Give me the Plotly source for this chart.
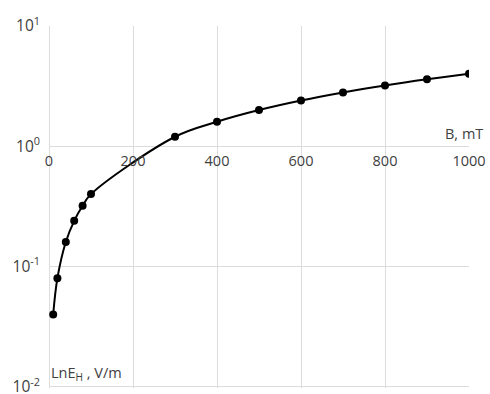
import plotly.graph_objects as go

B_mT = [10, 20, 40, 60, 80, 100, 300, 400, 500, 600, 700, 800, 900, 1000]
E_H = [0.04, 0.08, 0.16, 0.24, 0.32, 0.40, 1.2, 1.6, 2.0, 2.4, 2.8, 3.2, 3.6, 4.0]

x_ticks = [0, 200, 400, 600, 800, 1000]
y_tickvals = [0.01, 0.1, 1, 10]
y_ticktext = ["10<sup>-2</sup>", "10<sup>-1</sup>", "10<sup>0</sup>", "10<sup>1</sup>"]

FONT = "Open Sans"
TXT = "#404040"
GRID = "#dcdcdc"

fig = go.Figure()
fig.add_trace(go.Scatter(
    x=B_mT, y=E_H, mode="lines+markers",
    line=dict(color="black", width=2, shape="spline", smoothing=1.0),
    marker=dict(color="black", size=8),
    showlegend=False,
))

fig.update_layout(
    width=490, height=394,
    margin=dict(l=49, r=21, t=26, b=6, autoexpand=False),
    paper_bgcolor="white", plot_bgcolor="white",
    font=dict(family=FONT, size=14.5, color=TXT),
    xaxis=dict(
        range=[0, 1000], tickvals=x_ticks, ticktext=[str(v) for v in x_ticks],
        showgrid=True, gridcolor=GRID, gridwidth=1,
        zeroline=True, zerolinecolor=GRID, zerolinewidth=1,
        showline=False, ticks="", anchor="free", position=2/3,
        ticklabelstandoff=4, automargin=False,
        tickfont=dict(family=FONT, size=14.5, color=TXT),
    ),
    yaxis=dict(
        type="log", range=[-2.01, 1], tickvals=y_tickvals, ticktext=y_ticktext,
        showgrid=True, gridcolor=GRID, gridwidth=1, zeroline=False,
        showline=False, ticks="", ticklabelstandoff=8,
        ticklabeloverflow="allow", automargin=False,
        tickfont=dict(family=FONT, size=15.5, color=TXT),
    ),
    annotations=[
        dict(text="B, mT", xref="paper", x=1.038, xanchor="right",
             yref="y", y=0, yanchor="bottom", yshift=1, showarrow=False,
             font=dict(family=FONT, size=14.5, color=TXT)),
        dict(text="LnE<sub>H</sub> , V/m", xref="x", x=0, xanchor="left",
             yref="y", y=-2, yanchor="bottom", yshift=1, showarrow=False,
             font=dict(family=FONT, size=14.5, color=TXT)),
    ],
)

fig.write_html("out.html", config={"displayModeBar": False},
               post_script="document.body.style.margin='0px';")
